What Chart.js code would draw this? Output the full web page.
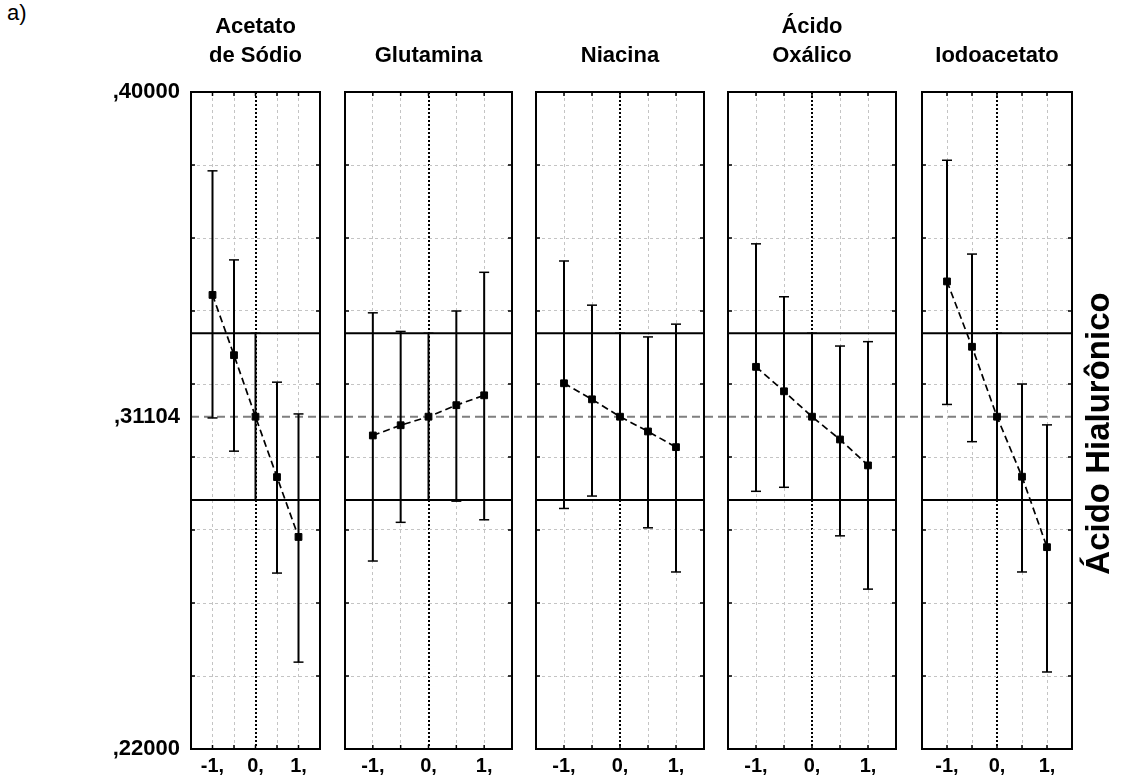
<!DOCTYPE html>
<html lang="pt">
<head>
<meta charset="utf-8">
<title>Ácido Hialurônico — efeitos dos aditivos</title>
<script src="https://cdn.jsdelivr.net/npm/chart.js@4.4.1/dist/chart.umd.min.js"></script>
<style>
  html,body{margin:0;padding:0;background:#fff;}
  body{width:1121px;height:782px;position:relative;overflow:hidden;font-family:'Liberation Sans',Arial,sans-serif;}
  canvas{position:absolute;top:0;}
  #tag{position:absolute;left:7px;top:0;font-size:22px;color:#000;}
</style>
</head>
<body>
<div id="tag">a)</div>
<script>
(function(){
  'use strict';

  // levels of each additive (coded)
  const levels = [-1, -0.5, 0, 0.5, 1];

  // axis ticks and their printed labels
  const xTicks = [-1.5, -1, -0.5, 0, 0.5, 1, 1.5];
  const xLabelValues = [-1, 0, 1];
  const xLabelText = ['-1,', '0,', '1,'];
  const yTicks = [0.22, 0.24, 0.26, 0.28, 0.30, 0.31104, 0.32, 0.34, 0.36, 0.38, 0.40];
  const yLabelValues = [0.40, 0.31104, 0.22];
  const yLabelText = [',40000', ',31104', ',22000'];

  // grand mean and its confidence limits
  const grandMean = 0.31104;
  const limitHigh = 0.3339;
  const limitLow = 0.2882;

  // panel titles
  const titles = [['Acetato', 'de Sódio'], ['', 'Glutamina'], ['', 'Niacina'], ['Ácido', 'Oxálico'], ['', 'Iodoacetato']];
  const yTitle = 'Ácido Hialurônico';

  // mean response and interval per level
  const acetatoMean = [0.3444, 0.3279, 0.31104, 0.2945, 0.2781];
  const acetatoLow  = [0.3107, 0.3016, 0.2882, 0.2682, 0.2438];
  const acetatoHigh = [0.3784, 0.3540, 0.3339, 0.3205, 0.3118];

  const glutaminaMean = [0.3059, 0.3087, 0.31104, 0.3142, 0.3169];
  const glutaminaLow  = [0.2715, 0.2821, 0.2882, 0.2879, 0.2828];
  const glutaminaHigh = [0.3395, 0.3344, 0.3339, 0.3400, 0.3506];

  const niacinaMean = [0.3202, 0.3158, 0.31104, 0.3070, 0.3027];
  const niacinaLow  = [0.2859, 0.2893, 0.2882, 0.2806, 0.2685];
  const niacinaHigh = [0.3537, 0.3416, 0.3339, 0.3329, 0.3364];

  const oxalicoMean = [0.3247, 0.3180, 0.31104, 0.3048, 0.2977];
  const oxalicoLow  = [0.2906, 0.2917, 0.2882, 0.2784, 0.2638];
  const oxalicoHigh = [0.3584, 0.3439, 0.3339, 0.3304, 0.3316];

  const iodoMean = [0.3481, 0.3302, 0.31104, 0.2946, 0.2753];
  const iodoLow  = [0.3144, 0.3042, 0.2882, 0.2685, 0.2411];
  const iodoHigh = [0.3813, 0.3556, 0.3339, 0.3200, 0.3088];

  const means = [acetatoMean, glutaminaMean, niacinaMean, oxalicoMean, iodoMean];
  const lows  = [acetatoLow, glutaminaLow, niacinaLow, oxalicoLow, iodoLow];
  const highs = [acetatoHigh, glutaminaHigh, niacinaHigh, oxalicoHigh, iodoHigh];

  // page layout: plot box [left, right] of each panel
  const W = 1121, H = 782;
  const plotBottom = 749;
  const boxes = [[191, 320], [345, 512], [536, 704], [728, 896], [922, 1072]];
  const FONT = "'Liberation Sans', Arial, sans-serif";
  const GRID = '#c4c4c4';

  const framePlugin = {
    id: 'frame',
    afterDraw(chart){
      const {ctx, chartArea: a, scales: {x, y}} = chart;
      ctx.save();
      ctx.strokeStyle = '#000';
      ctx.lineWidth = 2;
      ctx.strokeRect(a.left, a.top, a.right - a.left, a.bottom - a.top);
      ctx.lineWidth = 1.5;
      ctx.beginPath();
      x.ticks.forEach(t => {
        const px = x.getPixelForValue(t.value);
        ctx.moveTo(px, a.top); ctx.lineTo(px, a.top + 4);
        ctx.moveTo(px, a.bottom); ctx.lineTo(px, a.bottom - 4);
      });
      y.ticks.forEach(t => {
        if (t.value === grandMean) return;
        const py = y.getPixelForValue(t.value);
        ctx.moveTo(a.left, py); ctx.lineTo(a.left + 4, py);
        ctx.moveTo(a.right, py); ctx.lineTo(a.right - 4, py);
      });
      ctx.stroke();
      ctx.restore();
    }
  };

  // grey dashed grand-mean line, carried through the gap to the next panel
  const grandMeanPlugin = {
    id: 'grandMean',
    beforeDatasetsDraw(chart, args, opts){
      const {ctx, chartArea: a, scales: {y}} = chart;
      const py = y.getPixelForValue(grandMean);
      ctx.save();
      ctx.strokeStyle = '#7f7f7f';
      ctx.lineWidth = 2;
      ctx.setLineDash([8, 5]);
      ctx.beginPath();
      ctx.moveTo(a.left, py);
      ctx.lineTo(opts.toEdge ? chart.width : a.right, py);
      ctx.stroke();
      ctx.restore();
    }
  };

  const sideTitlePlugin = {
    id: 'sideTitle',
    afterDraw(chart, args, opts){
      if (!opts.text) return;
      const {ctx, chartArea: a} = chart;
      ctx.save();
      ctx.translate(a.right + 28, (a.top + a.bottom) / 2 + 13);
      ctx.rotate(-Math.PI / 2);
      ctx.font = 'bold 33px ' + FONT;
      ctx.fillStyle = '#000';
      ctx.textAlign = 'center';
      ctx.textBaseline = 'middle';
      ctx.fillText(opts.text, 0, 0);
      ctx.restore();
    }
  };

  function isZero(c){ return c.tick && c.tick.value === 0; }

  function buildPanel(i){
    const [l, r] = boxes[i];
    const first = i === 0, last = i === boxes.length - 1;
    // a little room on the left so the x axis edge padding never shifts the plot
    const padL = first ? l : 12;
    const padR = last ? W - r : boxes[i + 1][0] - r;

    const cv = document.createElement('canvas');
    cv.width = padL + (r - l) + padR;
    cv.height = H;
    cv.style.left = (l - padL) + 'px';
    document.body.appendChild(cv);

    const m = means[i], lo = lows[i], hi = highs[i];
    const bars = [];
    levels.forEach((x, k) => { bars.push({x, y: lo[k]}, {x, y: hi[k]}, {x, y: null}); });
    const xMin = xTicks[0], xMax = xTicks[xTicks.length - 1];

    new Chart(cv, {
      type: 'line',
      data: {
        datasets: [
          { data: [{x: xMin, y: limitHigh}, {x: xMax, y: limitHigh}], borderColor: '#000', borderWidth: 2, pointRadius: 0 },
          { data: [{x: xMin, y: limitLow}, {x: xMax, y: limitLow}], borderColor: '#000', borderWidth: 2, pointRadius: 0 },
          { data: bars, borderColor: '#000', borderWidth: 2, spanGaps: false,
            pointStyle: 'line', pointRadius: 5, pointBorderWidth: 1.5, pointBorderColor: '#000' },
          { data: levels.map((x, k) => ({x, y: m[k]})), borderColor: '#000', borderWidth: 1.7, borderDash: [7, 4],
            pointStyle: 'rect', pointRadius: 4.8, pointBackgroundColor: '#000', pointBorderColor: '#000', pointBorderWidth: 1 }
        ]
      },
      options: {
        responsive: false, animation: false, devicePixelRatio: 1,
        layout: { padding: { left: 0, right: padR, top: 0, bottom: 0 } },
        plugins: {
          legend: { display: false },
          tooltip: { enabled: false },
          title: { display: true, text: titles[i], fullSize: false, color: '#000',
                   font: { family: FONT, size: 22, weight: 'bold', lineHeight: 1.3 },
                   padding: { top: 13, bottom: 21.8 } },
          grandMean: { toEdge: !last },
          sideTitle: { text: last ? yTitle : '' }
        },
        scales: {
          x: {
            type: 'linear', min: xMin, max: xMax,
            afterBuildTicks: s => { s.ticks = xTicks.map(v => ({value: v})); },
            afterFit: s => { s.height = H - plotBottom; },
            ticks: { autoSkip: false, maxRotation: 0, padding: 5, color: '#000',
                     font: { family: FONT, size: 20, weight: 'bold' },
                     callback: v => { const k = xLabelValues.indexOf(v); return k < 0 ? '' : xLabelText[k]; } },
            grid: { drawTicks: false, color: c => isZero(c) ? '#000' : GRID, lineWidth: c => isZero(c) ? 2 : 1 },
            border: { display: false, dash: c => isZero(c) ? [2, 2] : [3, 3] }
          },
          y: {
            type: 'linear', min: 0.22, max: 0.40,
            afterBuildTicks: s => { s.ticks = yTicks.map(v => ({value: v})); },
            afterFit: s => { s.width = padL; },
            ticks: { display: first, autoSkip: false, padding: 11, color: '#000',
                     font: { family: FONT, size: 22, weight: 'bold' },
                     callback: v => { const k = yLabelValues.indexOf(v); return k < 0 ? '' : yLabelText[k]; } },
            grid: { drawTicks: false, lineWidth: 1,
                    color: c => c.tick && c.tick.value === grandMean ? 'rgba(0,0,0,0)' : GRID },
            border: { display: false, dash: [3, 3] }
          }
        }
      },
      plugins: [grandMeanPlugin, framePlugin, sideTitlePlugin]
    });
  }

  boxes.forEach((b, i) => buildPanel(i));
})();
</script>
</body>
</html>
